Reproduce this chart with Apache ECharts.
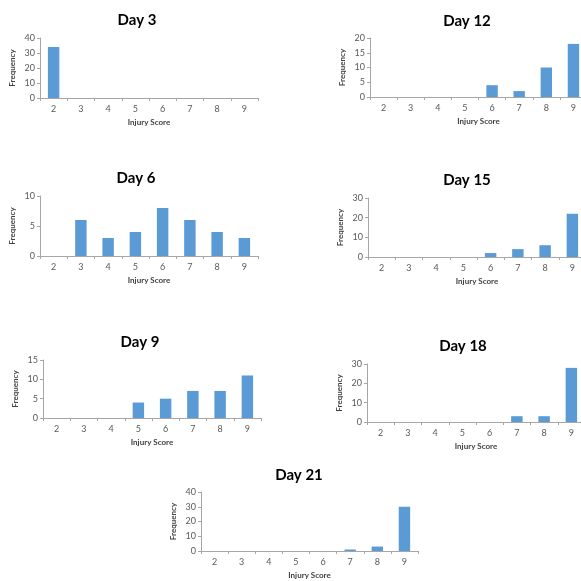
<!DOCTYPE html>
<html><head><meta charset="utf-8">
<script src="https://cdn.jsdelivr.net/npm/echarts@6/dist/echarts.min.js"></script>
<style>html,body{margin:0;padding:0;background:#fff}#c{width:581px;height:581px}</style>
</head><body><div id="c"></div>
<script>
const categories = ['2','3','4','5','6','7','8','9'];
const panelTitles = ['Day 3','Day 12','Day 6','Day 15','Day 9','Day 18','Day 21'];
const day3  = [34,0,0,0,0,0,0,0];
const day12 = [0,0,0,0,4,2,10,18];
const day6  = [0,6,3,4,8,6,4,3];
const day15 = [0,0,0,0,2,4,6,22];
const day9  = [0,0,0,4,5,7,7,11];
const day18 = [0,0,0,0,0,3,3,28];
const day21 = [0,0,0,0,0,1,3,30];
const yMax = [40,20,10,30,15,30,40];
const yStep = [10,5,5,10,5,10,10];
const seriesData = [day3,day12,day6,day15,day9,day18,day21];

// layout: [left, top, width, height, titleX, titleY]
const layout = [
  [40,38,218,60,132,8],
  [370,38,217,59,462,9],
  [40,196,218,60,131,166],
  [368,198,218,59,462,168],
  [43,360,218,58,135,330],
  [367,364,218,58,458,334],
  [201,492,217,59,294,463]
];
const font = 'Lato, "Open Sans", sans-serif';
const axisCol = '#a6a6a6';
const grid=[],xAxis=[],yAxis=[],series=[],title=[];
layout.forEach((L,i)=>{
  grid.push({left:L[0],top:L[1],width:L[2],height:L[3],containLabel:false,outerBoundsMode:'none'});
  title.push({text:panelTitles[i],left:L[4],top:L[5],textAlign:'center',
    textStyle:{fontFamily:font,fontSize:15,fontWeight:'bold',color:'#000'}});
  xAxis.push({type:'category',gridIndex:i,data:categories,
    name:'Injury Score',nameLocation:'middle',nameGap:20,
    nameTextStyle:{fontFamily:font,fontSize:8,fontWeight:'bold',color:'#404040'},
    axisLine:{lineStyle:{color:axisCol,width:1}},
    axisTick:{show:true,length:3,lineStyle:{color:axisCol}},
    axisLabel:{fontFamily:font,fontSize:9,color:'#595959',margin:7},
    splitLine:{show:false}});
  yAxis.push({type:'value',gridIndex:i,min:0,max:yMax[i],interval:yStep[i],
    name:'Frequency',nameLocation:'middle',nameGap:24,nameRotate:90,
    nameTextStyle:{fontFamily:font,fontSize:8,fontWeight:'bold',color:'#404040'},
    axisLine:{show:true,lineStyle:{color:axisCol,width:1}},
    axisTick:{show:true,length:3,lineStyle:{color:axisCol}},
    axisLabel:{fontFamily:font,fontSize:9,color:'#595959',margin:5},
    splitLine:{show:false}});
  series.push({type:'bar',xAxisIndex:i,yAxisIndex:i,data:seriesData[i],
    barWidth:'42%',itemStyle:{color:'#5b9bd5'},silent:true});
});
const chart = echarts.init(document.getElementById('c'),null,{renderer:'canvas'});
chart.setOption({animation:false,backgroundColor:'#fff',title,grid,xAxis,yAxis,series});
</script></body></html>
